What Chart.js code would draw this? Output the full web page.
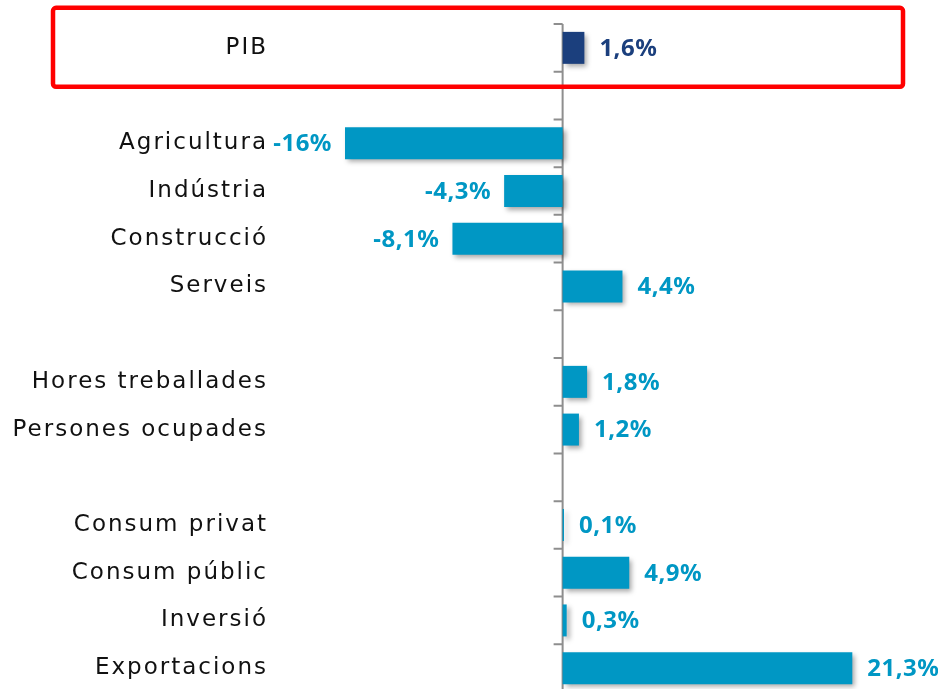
<!DOCTYPE html>
<html>
<head>
<meta charset="utf-8">
<script src="https://cdn.jsdelivr.net/npm/chart.js@4.4.1/dist/chart.umd.min.js"></script>
<style>
    html, body { margin: 0; padding: 0; background: #fff; overflow: hidden; }
    #wrap { width: 938px; height: 692px; position: relative; }
</style>
</head>
<body>
<div id="wrap"><canvas id="bar-chart"></canvas></div>
<script>
// categories ('' = blank spacer rows)
const categories = ['PIB', '', 'Agricultura', 'Indústria', 'Construcció', 'Serveis', '',
    'Hores treballades', 'Persones ocupades', '', 'Consum privat', 'Consum públic', 'Inversió', 'Exportacions'];
// growth, %
const values = [1.6, null, -16, -4.3, -8.1, 4.4, null, 1.8, 1.2, null, 0.1, 4.9, 0.3, 21.3];
const highlight = ['PIB'];

const navy = '#1b3f7d';
const blue = '#0097c4';
const barColors = categories.map(c => highlight.includes(c) ? navy : blue);

document.addEventListener('DOMContentLoaded', function () {
    const ctx = document.getElementById('bar-chart').getContext('2d');

    // wider tracking for the category labels (scales are drawn before datasets)
    const labelSpacing = {
        id: 'labelSpacing',
        beforeDraw(chart) { chart.ctx.letterSpacing = '2px'; },
        beforeDatasetsDraw(chart) { chart.ctx.letterSpacing = '0px'; }
    };

    // zero axis line with small ticks between rows
    const zeroAxis = {
        id: 'zeroAxis',
        beforeDatasetsDraw(chart) {
            const { ctx, chartArea, scales: { x } } = chart;
            const x0 = x.getPixelForValue(0);
            const step = (chartArea.bottom - chartArea.top) / categories.length;
            ctx.save();
            ctx.strokeStyle = '#8e8e8e';
            ctx.lineWidth = 2;
            ctx.beginPath();
            ctx.moveTo(x0, chartArea.top);
            ctx.lineTo(x0, chartArea.bottom);
            for (let i = 0; i <= categories.length; i++) {
                const yy = chartArea.top + i * step;
                ctx.moveTo(x0 - 9, yy);
                ctx.lineTo(x0, yy);
            }
            ctx.stroke();
            ctx.restore();
        }
    };

    // soft shadow under bars
    const barShadow = {
        id: 'barShadow',
        beforeDatasetDraw(chart) {
            const c = chart.ctx;
            c.save();
            c.shadowColor = 'rgba(0,0,0,0.35)';
            c.shadowBlur = 5;
            c.shadowOffsetX = 3;
            c.shadowOffsetY = 3;
        },
        afterDatasetDraw(chart) {
            chart.ctx.restore();
        }
    };

    // value labels next to bars
    const valueLabels = {
        id: 'valueLabels',
        afterDatasetsDraw(chart) {
            const { ctx } = chart;
            const meta = chart.getDatasetMeta(0);
            ctx.save();
            ctx.font = 'bold 24px "Noto Sans"';
            ctx.letterSpacing = '0.5px';
            ctx.textBaseline = 'middle';
            meta.data.forEach((bar, i) => {
                const v = values[i];
                if (v === null) return;
                const txt = String(v).replace('.', ',') + '%';
                ctx.fillStyle = barColors[i];
                if (v >= 0) {
                    ctx.textAlign = 'left';
                    ctx.fillText(txt, bar.x + 15, bar.y + 1);
                } else {
                    ctx.textAlign = 'right';
                    ctx.fillText(txt, bar.x - 13, bar.y + 1);
                }
            });
            ctx.restore();
        }
    };

    // red frame around highlighted row
    const highlightBox = {
        id: 'highlightBox',
        afterDraw(chart) {
            const { ctx, scales: { y } } = chart;
            const idx = categories.indexOf(highlight[0]);
            const cy = y.getPixelForValue(idx);
            ctx.save();
            ctx.strokeStyle = '#ff0000';
            ctx.lineWidth = 4.5;
            ctx.beginPath();
            ctx.roundRect(53, cy - 40, 850, 79, 3);
            ctx.stroke();
            ctx.restore();
        }
    };

    new Chart(ctx, {
        type: 'bar',
        data: {
            labels: categories,
            datasets: [{
                data: values,
                backgroundColor: barColors,
                borderWidth: 0,
                barPercentage: 0.67,
                categoryPercentage: 1
            }]
        },
        options: {
            indexAxis: 'y',
            responsive: true,
            maintainAspectRatio: false,
            animation: false,
            layout: { padding: { top: 24, right: 0, bottom: 0, left: 0 } },
            scales: {
                x: {
                    display: false,
                    min: -21,
                    max: 27.6
                },
                y: {
                    grid: { display: false, drawTicks: false },
                    border: { display: false },
                    ticks: {
                        color: '#111',
                        padding: 9,
                        font: { family: '"DejaVu Sans"', size: 23 }
                    },
                    afterFit(scale) {
                        scale.width = 277;
                        scale.paddingTop = 0;
                        scale.paddingBottom = 0;
                    }
                }
            },
            plugins: {
                legend: { display: false },
                tooltip: { enabled: false }
            }
        },
        plugins: [labelSpacing, zeroAxis, barShadow, valueLabels, highlightBox]
    });
});
</script>
</body>
</html>
